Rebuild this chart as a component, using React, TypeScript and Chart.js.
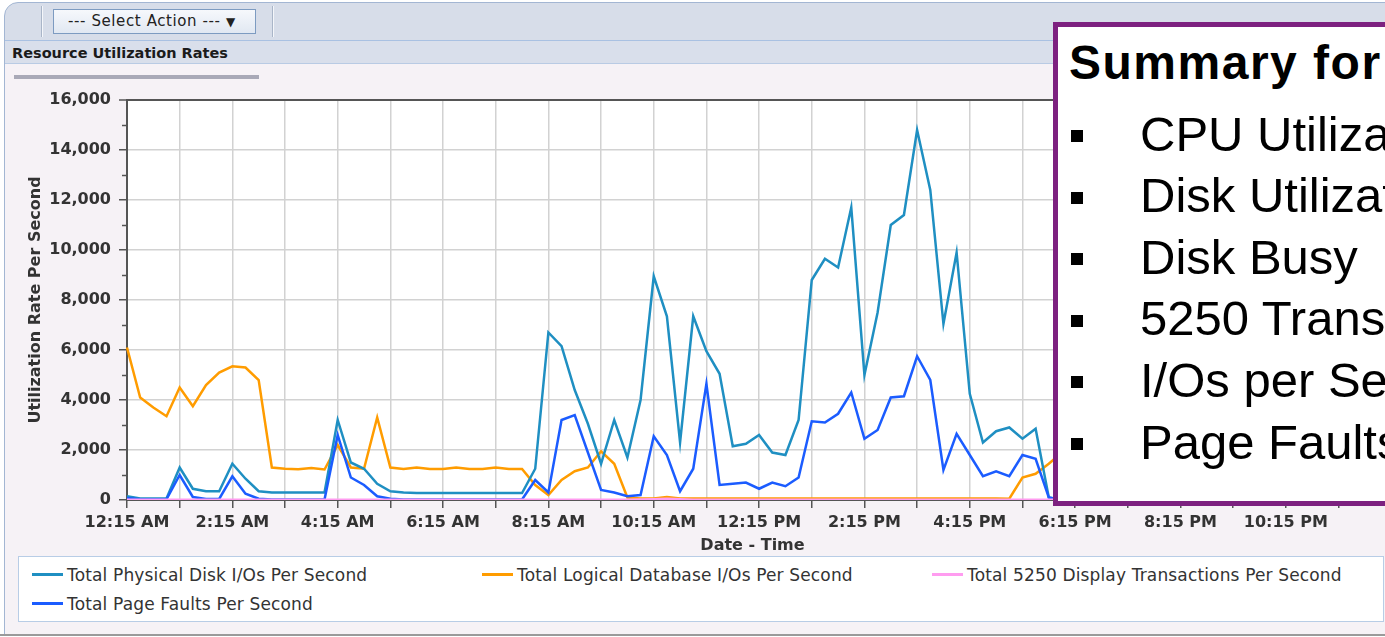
import React, { useEffect, useRef } from 'react';
import { Chart, registerables } from 'chart.js';

Chart.register(...registerables);

// 15-minute time slots shown on the category x axis
const timeSlots = [
  '12:15 AM', '12:30 AM', '12:45 AM', '1:00 AM', '1:15 AM', '1:30 AM', '1:45 AM', '2:00 AM',
  '2:15 AM', '2:30 AM', '2:45 AM', '3:00 AM', '3:15 AM', '3:30 AM', '3:45 AM', '4:00 AM',
  '4:15 AM', '4:30 AM', '4:45 AM', '5:00 AM', '5:15 AM', '5:30 AM', '5:45 AM', '6:00 AM',
  '6:15 AM', '6:30 AM', '6:45 AM', '7:00 AM', '7:15 AM', '7:30 AM', '7:45 AM', '8:00 AM',
  '8:15 AM', '8:30 AM', '8:45 AM', '9:00 AM', '9:15 AM', '9:30 AM', '9:45 AM', '10:00 AM',
  '10:15 AM', '10:30 AM', '10:45 AM', '11:00 AM', '11:15 AM', '11:30 AM', '11:45 AM', '12:00 PM',
  '12:15 PM', '12:30 PM', '12:45 PM', '1:00 PM', '1:15 PM', '1:30 PM', '1:45 PM', '2:00 PM',
  '2:15 PM', '2:30 PM', '2:45 PM', '3:00 PM', '3:15 PM', '3:30 PM', '3:45 PM', '4:00 PM',
  '4:15 PM', '4:30 PM', '4:45 PM', '5:00 PM', '5:15 PM', '5:30 PM', '5:45 PM', '6:00 PM',
  '6:15 PM', '6:30 PM', '6:45 PM', '7:00 PM', '7:15 PM', '7:30 PM', '7:45 PM', '8:00 PM',
  '8:15 PM', '8:30 PM', '8:45 PM', '9:00 PM', '9:15 PM', '9:30 PM', '9:45 PM', '10:00 PM',
  '10:15 PM', '10:30 PM', '10:45 PM', '11:00 PM', '11:15 PM', '11:30 PM', '11:45 PM', '12:00 AM',
];

const seriesNames = [
  'Total Physical Disk I/Os Per Second',
  'Total Logical Database I/Os Per Second',
  'Total 5250 Display Transactions Per Second',
  'Total Page Faults Per Second',
];
const seriesColors = ['#1f8fc2', '#ff9c00', '#ff9cf0', '#1b5cff'];

const physicalDiskIOs = [
  150, 60, 60, 60, 1300, 450, 350, 350, 1450, 850,
  350, 300, 300, 300, 300, 300, 3200, 1500, 1250, 650,
  350, 300, 280, 280, 280, 280, 280, 280, 280, 280,
  280, 1250, 6700, 6150, 4400, 3050, 1450, 3200, 1700, 4000,
  8950, 7350, 2300, 7350, 5950, 5050, 2150, 2250, 2600, 1900,
  1800, 3200, 8800, 9650, 9300, 11700, 5000, 7500, 11000, 11400,
  14800, 12400, 7050, 9900, 4250, 2300, 2750, 2900, 2450, 2850,
  100, 0,
];

const logicalDbIOs = [
  6100, 4100, 3700, 3350, 4500, 3750, 4600, 5100, 5350, 5300,
  4800, 1300, 1250, 1230, 1280, 1220, 2200, 1300, 1250, 3300,
  1300, 1240, 1300, 1240, 1240, 1300, 1240, 1240, 1300, 1240,
  1240, 600, 200, 800, 1150, 1300, 1950, 1450, 100, 60,
  60, 120, 60, 60, 60, 60, 60, 60, 60, 60,
  60, 60, 60, 60, 60, 60, 60, 60, 60, 60,
  60, 60, 60, 60, 60, 60, 60, 50, 900, 1050,
  1450, 1900,
];

const display5250 = [
  15, 15, 15, 15, 15, 15, 15, 15, 15, 15,
  15, 15, 15, 15, 15, 15, 15, 15, 15, 15,
  15, 15, 15, 15, 15, 15, 15, 15, 15, 15,
  15, 15, 15, 15, 15, 15, 15, 15, 15, 20,
  30, 50, 30, 15, 15, 15, 15, 15, 15, 15,
  15, 15, 15, 15, 15, 15, 15, 15, 15, 15,
  15, 15, 15, 15, 15, 15, 15, 15, 15, 15,
  15, 15,
];

const pageFaults = [
  80, 30, 30, 30, 1000, 120, 40, 40, 950, 250,
  50, 20, 20, 20, 20, 20, 2600, 900, 600, 150,
  50, 20, 20, 20, 20, 20, 20, 20, 20, 20,
  20, 800, 300, 3200, 3400, 1900, 400, 300, 150, 200,
  2550, 1800, 350, 1250, 4650, 600, 650, 700, 450, 700,
  550, 900, 3150, 3100, 3450, 4300, 2450, 2800, 4100, 4150,
  5750, 4800, 1200, 2650, 1800, 950, 1150, 950, 1800, 1650,
  100, 0,
];

const summaryTitle = 'Summary for';
const summaryItems = ['CPU Utilization', 'Disk Utilization', 'Disk Busy', '5250 Transactions', 'I/Os per Second', 'Page Faults'];

const FONT = "'DejaVu Sans', Verdana, sans-serif";

const chartBg = {
  id: 'chartBg',
  beforeDraw(chart: any) {
    const { ctx, chartArea } = chart;
    ctx.save();
    ctx.fillStyle = '#ffffff';
    ctx.fillRect(chartArea.left, chartArea.top, chartArea.right - chartArea.left, chartArea.bottom - chartArea.top);
    ctx.restore();
  },
};

const minorTicks = {
  id: 'minorTicks',
  afterDraw(chart: any) {
    const y = chart.scales.y;
    const { ctx, chartArea } = chart;
    ctx.save();
    ctx.strokeStyle = '#555555';
    ctx.lineWidth = 1.5;
    y.ticks.forEach((t: any) => {
      if (t.value % 2000 !== 0) {
        const py = Math.round(y.getPixelForValue(t.value)) + 0.5;
        ctx.beginPath();
        ctx.moveTo(chartArea.left - 5, py);
        ctx.lineTo(chartArea.left, py);
        ctx.stroke();
      }
    });
    ctx.restore();
  },
};

export default function App() {
  const canvasRef = useRef<HTMLCanvasElement | null>(null);

  useEffect(() => {
    const canvas = canvasRef.current;
    if (!canvas) return;
    const common = { borderWidth: 2.5, pointRadius: 0, tension: 0, fill: false };
    const tickFont = { family: FONT, size: 16, weight: 'bold' as const };
    const chart = new Chart(canvas, {
      type: 'line',
      data: {
        labels: timeSlots,
        datasets: [
          { ...common, label: seriesNames[0], data: physicalDiskIOs, borderColor: seriesColors[0], order: 2 },
          { ...common, label: seriesNames[1], data: logicalDbIOs, borderColor: seriesColors[1], order: 3 },
          { ...common, label: seriesNames[2], data: display5250, borderColor: seriesColors[2], order: 0 },
          { ...common, label: seriesNames[3], data: pageFaults, borderColor: seriesColors[3], order: 1 },
        ],
      },
      options: {
        animation: false,
        responsive: false,
        devicePixelRatio: 1,
        layout: { padding: { top: 100, left: 23, right: 7, bottom: 5 } },
        plugins: { legend: { display: false }, tooltip: { enabled: false } },
        scales: {
          x: {
            type: 'category',
            offset: false,
            grid: {
              offset: false,
              lineWidth: 1.5,
              color: (ctx: any) => (ctx.index % 4 === 0 && ctx.index > 0 ? '#d2d2d2' : 'rgba(0,0,0,0)'),
              tickColor: (ctx: any) => (ctx.index % 4 === 0 ? '#555555' : 'rgba(0,0,0,0)'),
              tickLength: 8,
              tickWidth: 1.5,
            },
            border: { color: '#555555', width: 2 },
            ticks: {
              autoSkip: false,
              maxRotation: 0,
              minRotation: 0,
              padding: 5,
              color: '#333333',
              font: tickFont,
              callback: (_v: any, i: number) => (i % 8 === 0 ? timeSlots[i] : ''),
            },
            title: {
              display: true,
              text: 'Date - Time',
              color: '#333333',
              font: tickFont,
              padding: { top: 0, bottom: 0 },
            },
            afterFit: (s: any) => {
              s.height = 55;
            },
          },
          y: {
            min: 0,
            max: 16000,
            grid: {
              lineWidth: (ctx: any) => (ctx.tick && ctx.tick.value === 16000 ? 2 : 1.5),
              color: (ctx: any) => {
                const v = ctx.tick ? ctx.tick.value : 0;
                if (v % 2000 !== 0) return 'rgba(0,0,0,0)';
                return v === 16000 ? '#555555' : '#d2d2d2';
              },
              tickColor: (ctx: any) => (ctx.tick && ctx.tick.value % 2000 === 0 ? '#555555' : 'rgba(0,0,0,0)'),
              tickLength: 8,
              tickWidth: 1.5,
            },
            border: { color: '#555555', width: 2 },
            ticks: {
              stepSize: 1000,
              autoSkip: false,
              padding: 8,
              color: '#333333',
              font: tickFont,
              callback: (v: any) => (Number(v) % 2000 === 0 ? Number(v).toLocaleString('en-US') : ''),
            },
            title: {
              display: true,
              text: 'Utilization Rate Per Second',
              color: '#333333',
              font: tickFont,
              padding: { top: 3, bottom: 0 },
            },
            afterFit: (s: any) => {
              s.width = 104;
            },
          },
        },
      } as any,
      plugins: [chartBg, minorTicks],
    });
    return () => chart.destroy();
  }, []);

  const legendPos = [
    { x: 32, row: 0 },
    { x: 482, row: 0 },
    { x: 932, row: 0 },
    { x: 32, row: 1 },
  ];
  const rowCenter = [574, 603];
  const rowTextTop = [565, 594];

  const bulletCenters = [136, 197.6, 259.2, 320.8, 382.4, 444];

  return (
    <div
      style={{
        position: 'fixed',
        left: 0,
        top: 0,
        width: 1385,
        height: 637,
        overflow: 'hidden',
        background: '#ffffff',
        fontFamily: FONT,
      }}
    >
      {/* outer frame / toolbar */}
      <div
        style={{
          position: 'absolute',
          left: 4,
          top: 2,
          width: 1400,
          height: 634,
          boxSizing: 'border-box',
          border: '1px solid #a3b6d3',
          borderTopLeftRadius: 14,
          background: '#d7dde9',
        }}
      />
      <div style={{ position: 'absolute', left: 41, top: 6, width: 1, height: 31, background: '#a9b5c8' }} />
      <div style={{ position: 'absolute', left: 42, top: 6, width: 1, height: 31, background: '#f4f6fa' }} />
      <div style={{ position: 'absolute', left: 272, top: 6, width: 1, height: 31, background: '#a9b5c8' }} />
      <div style={{ position: 'absolute', left: 273, top: 6, width: 1, height: 31, background: '#f4f6fa' }} />
      <div
        style={{
          position: 'absolute',
          left: 53,
          top: 9,
          width: 203,
          height: 25,
          boxSizing: 'border-box',
          border: '1px solid #7d9bc1',
          background: 'linear-gradient(#f6f8fc, #e1e8f2)',
          fontSize: 15,
          letterSpacing: 0.6,
          color: '#222222',
          lineHeight: '23px',
          paddingLeft: 14,
          whiteSpace: 'nowrap',
        }}
      >
        --- Select Action --- <span style={{ fontSize: 12, letterSpacing: 0 }}>▼</span>
      </div>

      {/* header bar */}
      <div
        style={{
          position: 'absolute',
          left: 5,
          top: 40,
          width: 1400,
          height: 24,
          boxSizing: 'border-box',
          borderTop: '1px solid #a9c1e2',
          borderBottom: '1px solid #b9cbe4',
          background: '#d9dfeb',
        }}
      />
      <div
        style={{
          position: 'absolute',
          left: 12,
          top: 42,
          height: 22,
          lineHeight: '22px',
          fontSize: 14.5,
          fontWeight: 'bold',
          color: '#1b1b1b',
          whiteSpace: 'nowrap',
        }}
      >
        Resource Utilization Rates
      </div>

      {/* chart panel */}
      <div style={{ position: 'absolute', left: 5, top: 64, width: 1400, height: 570, background: '#f6f2f6' }} />
      <div style={{ position: 'absolute', left: 0, top: 634, width: 1385, height: 2, background: '#9a9a9a' }} />
      <div style={{ position: 'absolute', left: 14, top: 75, width: 245, height: 4, background: '#a9a9b7' }} />

      <canvas
        ref={canvasRef}
        width={1385}
        height={560}
        style={{ position: 'absolute', left: 0, top: 0, width: 1385, height: 560 }}
      />

      {/* legend */}
      <div
        style={{
          position: 'absolute',
          left: 18,
          top: 556,
          width: 1366,
          height: 66,
          boxSizing: 'border-box',
          border: '1px solid #b8cde6',
          background: '#ffffff',
        }}
      />
      {seriesNames.map((name, i) => (
        <React.Fragment key={name}>
          <div
            style={{
              position: 'absolute',
              left: legendPos[i].x,
              top: rowCenter[legendPos[i].row] - 1.5,
              width: 31,
              height: 3,
              background: seriesColors[i],
            }}
          />
          <div
            style={{
              position: 'absolute',
              left: legendPos[i].x + 35,
              top: rowTextTop[legendPos[i].row],
              fontSize: 17,
              lineHeight: '20px',
              letterSpacing: 0.15,
              color: '#333333',
              whiteSpace: 'nowrap',
            }}
          >
            {name}
          </div>
        </React.Fragment>
      ))}

      {/* summary overlay */}
      <div
        style={{
          position: 'absolute',
          left: 1053,
          top: 22,
          width: 400,
          height: 484,
          boxSizing: 'border-box',
          border: '5px solid #7d2180',
          background: '#ffffff',
        }}
      />
      <div
        style={{
          position: 'absolute',
          left: 1069,
          top: 80 - 0.8465 * 48,
          fontFamily: "'Liberation Sans', Arial, sans-serif",
          fontWeight: 'bold',
          fontSize: 48,
          letterSpacing: 1.5,
          lineHeight: '48px',
          color: '#000000',
          whiteSpace: 'nowrap',
        }}
      >
        {summaryTitle}
      </div>
      {summaryItems.map((item, i) => (
        <React.Fragment key={item}>
          <div
            style={{
              position: 'absolute',
              left: 1071,
              top: bulletCenters[i] - 6,
              width: 12,
              height: 12,
              background: '#000000',
            }}
          />
          <div
            style={{
              position: 'absolute',
              left: 1140,
              top: bulletCenters[i] + 15 - 0.8465 * 49,
              fontFamily: "'Liberation Sans', Arial, sans-serif",
              fontSize: 49,
              lineHeight: '49px',
              color: '#000000',
              whiteSpace: 'nowrap',
            }}
          >
            {item}
          </div>
        </React.Fragment>
      ))}
    </div>
  );
}
